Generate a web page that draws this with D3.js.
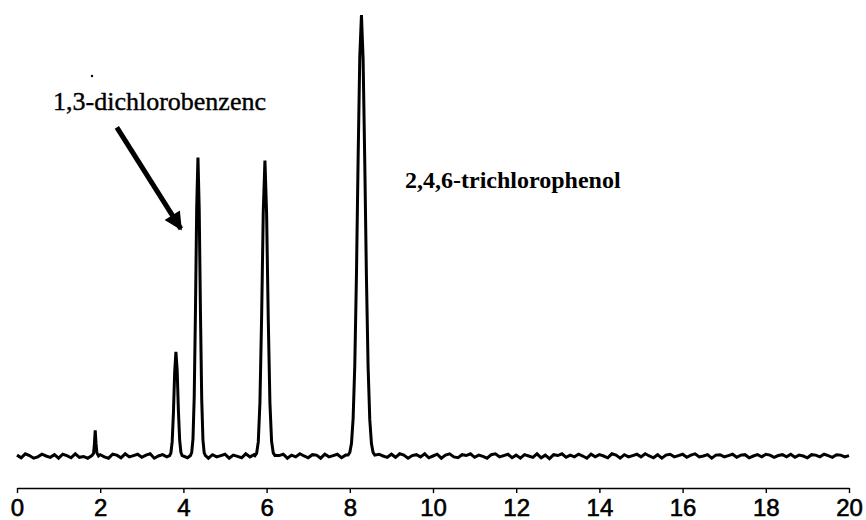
<!DOCTYPE html>
<html>
<head>
<meta charset="utf-8">
<script src="https://cdn.jsdelivr.net/npm/d3@7"></script>
<style>
    body { margin: 0; background: #fff; }
    svg { display: block; }
</style>
</head>
<body>
<div id="chart"></div>
<script>
// retention time ticks (min)
const tick_values = [0, 2, 4, 6, 8, 10, 12, 14, 16, 18, 20];

// baseline noise, one value every 0.1 min from 0 to 20
const noise_step = 0.1;
const baseline_noise = [
    0.2,-0.4,0.5,0.1,-0.5,-0.2,0.4,0.0,-0.3,0.3,
    -0.5,0.4,0.1,-0.4,0.5,-0.3,-0.1,-0.5,0.2,0.0,
    0.3,-0.2,-0.5,0.4,0.2,-0.4,0.5,-0.2,0.1,0.4,
    -0.3,0.2,0.5,-0.5,0.0,0.3,-0.2,0.3,-0.4,0.4,
    0.0,-0.4,0.3,-0.2,0.2,0.5,-0.5,0.3,-0.2,0.1,
    0.4,-0.5,0.2,-0.1,-0.4,0.5,-0.2,0.3,0.1,-0.4,
    0.2,0.5,-0.3,0.1,0.4,-0.5,0.2,-0.2,0.5,0.0,
    -0.4,0.3,0.2,-0.5,0.4,-0.2,0.1,0.4,-0.4,0.2,
    0.5,-0.2,0.0,-0.4,0.3,0.2,-0.5,0.4,0.0,-0.3,
    0.4,-0.3,0.5,0.2,-0.5,0.1,0.3,-0.2,0.5,-0.4,
    0.0,0.4,-0.5,0.2,0.5,-0.2,-0.4,0.3,0.1,0.5,
    -0.3,0.2,-0.1,-0.5,0.3,0.5,-0.2,0.1,0.4,-0.4,
    0.2,-0.5,0.3,0.0,-0.3,0.5,-0.4,0.2,-0.6,0.3,
    0.1,0.5,-0.3,0.2,-0.2,0.4,0.0,-0.5,0.4,-0.2,
    0.3,0.0,-0.4,0.5,0.2,-0.5,0.3,-0.2,0.1,0.4,
    -0.2,0.5,0.0,-0.4,0.3,-0.5,0.2,0.4,-0.2,0.1,
    0.4,-0.3,0.2,0.5,-0.2,0.0,0.3,-0.5,0.2,0.3,
    -0.2,0.1,0.4,-0.3,0.2,0.3,-0.4,0.0,0.3,-0.2,
    0.4,0.2,-0.3,0.1,0.3,-0.2,0.4,-0.3,0.2,0.0,
    -0.4,0.3,0.2,-0.2,0.4,0.1,-0.3,0.3,0.2,-0.2,
    0.1
];

// peaks: [time, signal] (signal in % of the largest peak)
const peak_1 = [[1.80,0.1],[1.84,0.6],[1.86,2.6],[1.88,5.8],[1.90,2.8],[1.92,0.7],[1.96,0.0]];
const peak_2 = [[3.67,0.1],[3.70,0.7],[3.73,3.2],[3.76,9.7],[3.79,18.9],[3.82,23.6],[3.85,19.5],
                [3.88,10.2],[3.91,3.6],[3.94,0.8],[3.97,0.1]];
const peak_3 = [[4.17,0.1],[4.20,0.8],[4.23,3.8],[4.26,13.4],[4.29,33.0],[4.32,56.5],[4.35,67.7],
                [4.38,56.0],[4.41,32.5],[4.44,13.0],[4.47,3.6],[4.50,0.7],[4.53,0.1]];
const peak_4 = [[5.72,0.1],[5.76,0.6],[5.80,3.2],[5.84,12.2],[5.88,31.4],[5.92,55.4],[5.96,67.0],
                [6.00,55.0],[6.04,31.0],[6.08,12.0],[6.12,3.3],[6.16,0.7],[6.20,0.1]];
const peak_5 = [[7.96,0.2],[8.00,0.8],[8.04,2.8],[8.08,8.5],[8.12,20.6],[8.16,41.1],[8.20,67.4],
                [8.24,90.6],[8.28,100],[8.32,90.0],[8.36,66.5],[8.40,40.5],[8.44,20.2],[8.48,8.3],
                [8.52,2.8],[8.56,0.8],[8.60,0.2]];
const peaks = [peak_1, peak_2, peak_3, peak_4, peak_5];

const label_a = "1,3-dichlorobenzenc";
const label_b = "2,4,6-trichlorophenol";

const width = 866, height = 520;

const svg = d3.select("#chart")
    .append("svg")
    .attr("width", width)
    .attr("height", height);

const x = d3.scaleLinear().domain([0, 20]).range([17, 849]);
const y = d3.scaleLinear().domain([0, 100]).range([456, 15]);

/* trace: baseline noise outside the peak windows + the peaks */
var trace = [];
baseline_noise.forEach(function(v, i){
    var t = +(i * noise_step).toFixed(2);
    var inside = peaks.some(function(p){ return t >= p[0][0] && t <= p[p.length - 1][0]; });
    if (!inside) trace.push([t, v]);
});
peaks.forEach(function(p){ trace = trace.concat(p); });
trace.sort(function(a, b){ return a[0] - b[0]; });

svg.append("path")
    .datum(trace)
    .attr("fill", "none")
    .attr("stroke", "#000")
    .attr("stroke-width", 3)
    .attr("stroke-linejoin", "miter")
    .attr("d", d3.line()
        .x(function(d){ return x(d[0]); })
        .y(function(d){ return y(d[1]); }));

/* вісь */
const axis = svg.append("g")
    .attr("transform", "translate(0,488)")
    .call(d3.axisBottom(x)
        .tickValues(tick_values)
        .tickFormat(d3.format("d"))
        .tickSize(5)
        .tickSizeOuter(0)
        .tickPadding(6));

axis.select(".domain").attr("stroke", "#000").attr("stroke-width", 1.4);
axis.selectAll(".tick line").attr("stroke", "#000").attr("stroke-width", 1.4);
axis.selectAll(".tick text")
    .attr("fill", "#000")
    .attr("stroke", "#000")
    .attr("stroke-width", 0.6)
    .style("font-family", "'Liberation Sans', Arial, sans-serif")
    .style("font-size", "24px");

/* підписи */
svg.append("text")
    .attr("x", 53)
    .attr("y", 110)
    .style("font-family", "'Liberation Serif', 'Times New Roman', serif")
    .style("font-size", "26px")
    .attr("fill", "#000")
    .attr("stroke", "#000")
    .attr("stroke-width", 0.4)
    .text(label_a);

svg.append("text")
    .attr("x", 405)
    .attr("y", 188)
    .style("font-family", "'Liberation Serif', 'Times New Roman', serif")
    .style("font-size", "24px")
    .style("font-weight", "bold")
    .attr("fill", "#000")
    .text(label_b);

/* стрілка */
svg.append("defs").append("marker")
    .attr("id", "head")
    .attr("viewBox", "0 0 10 10")
    .attr("refX", 9)
    .attr("refY", 5)
    .attr("markerWidth", 5)
    .attr("markerHeight", 3.6)
    .attr("markerUnits", "strokeWidth")
    .attr("orient", "auto")
    .append("path")
    .attr("d", "M0,0 L10,5 L0,10 Z")
    .attr("fill", "#000");

svg.append("line")
    .attr("x1", x(2.4))
    .attr("y1", y(74.5))
    .attr("x2", x(3.94))
    .attr("y2", y(51.5))
    .attr("stroke", "#000")
    .attr("stroke-width", 5)
    .attr("marker-end", "url(#head)");

svg.append("circle")
    .attr("cx", 92).attr("cy", 76).attr("r", 1.2)
    .attr("fill", "#000");
</script>
</body>
</html>
